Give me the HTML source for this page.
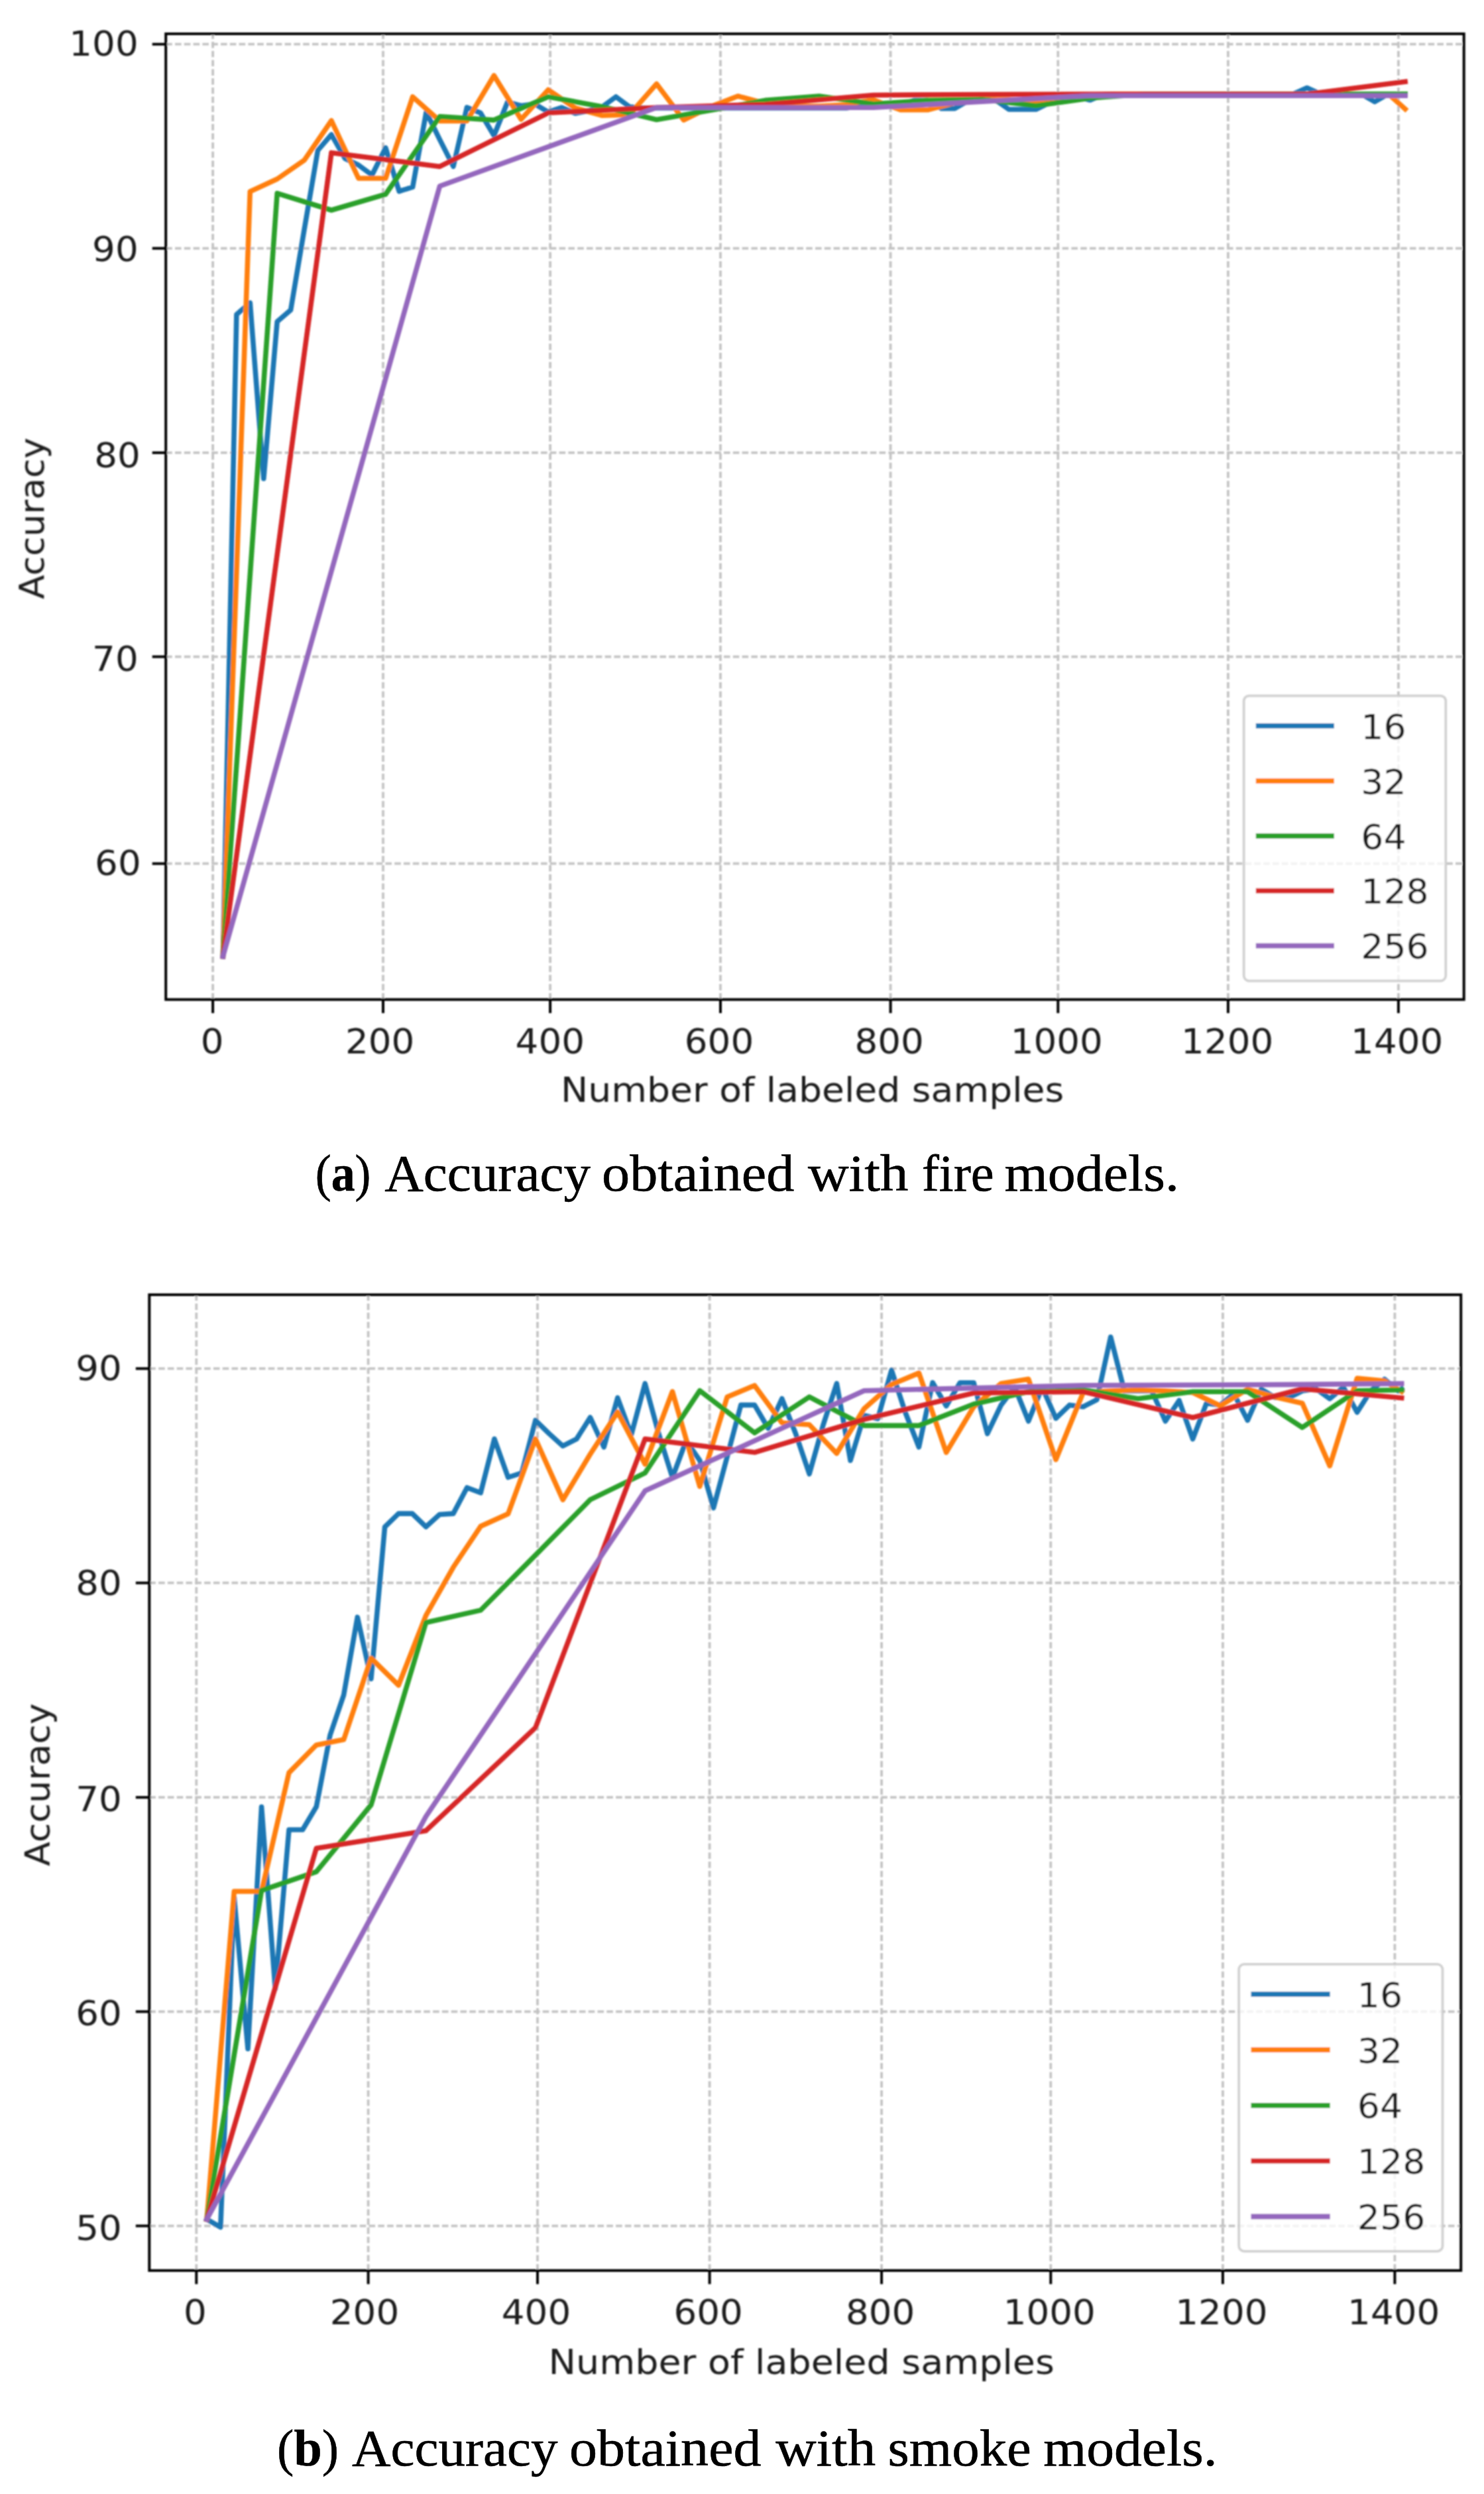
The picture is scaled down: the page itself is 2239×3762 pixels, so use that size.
<!DOCTYPE html>
<html lang="en"><head><meta charset="utf-8"><title>Accuracy vs number of labeled samples</title>
<style>
html,body{margin:0;padding:0;background:#fff}
body{width:2239px;height:3762px;overflow:hidden}
svg{display:block}
.dv{font-family:"DejaVu Sans","Liberation Sans",sans-serif;font-size:52.1px;fill:#1a1a1a}
.cap{font-family:"Liberation Serif","DejaVu Serif",serif;font-size:78px;fill:#000;stroke:#000;stroke-width:0.6px}
.cap .b{font-weight:bold}
</style></head><body>
<svg width="2239" height="3762" viewBox="0 0 2239 3762">
<defs><filter id="bl" filterUnits="userSpaceOnUse" x="0" y="0" width="2239" height="3762"><feGaussianBlur stdDeviation="1.1"/></filter></defs>
<rect width="2239" height="3762" fill="#fff"/>
<g class="ch" filter="url(#bl)">
<g stroke="#c3c3c3" stroke-width="3.75" stroke-dasharray="9.6 4.2" fill="none">
<path d="M321.1 1507.7V51.0"/>
<path d="M578.0 1507.7V51.0"/>
<path d="M830.1 1507.7V51.0"/>
<path d="M1087.0 1507.7V51.0"/>
<path d="M1343.6 1507.7V51.0"/>
<path d="M1596.3 1507.7V51.0"/>
<path d="M1852.9 1507.7V51.0"/>
<path d="M2109.9 1507.7V51.0"/>
<path d="M250.2 66.7H2208.7"/>
<path d="M250.2 374.6H2208.7"/>
<path d="M250.2 682.9H2208.7"/>
<path d="M250.2 990.6H2208.7"/>
<path d="M250.2 1302.7H2208.7"/>
</g>
<clipPath id="cpa"><rect x="250.2" y="51.0" width="1958.4999999999998" height="1456.7"/></clipPath>
<g clip-path="url(#cpa)" fill="none" stroke-width="7.6" stroke-linejoin="round" stroke-linecap="square">
<polyline stroke="#1f77b4" points="336.4,1442.5 356.9,474.3 377.3,456.8 397.8,722.0 418.2,485.1 438.6,467.6 459.1,346.0 479.5,226.9 500.0,203.0 520.4,239.0 540.9,249.0 561.3,264.0 581.8,223.0 602.2,288.5 622.6,282.2 643.1,169.0 663.5,210.7 684.0,251.0 704.4,162.0 724.9,170.3 745.3,204.5 765.7,154.0 786.2,159.5 806.6,156.8 827.1,168.9 847.5,162.2 868.0,171.0 888.4,167.0 908.8,161.0 929.3,146.0 949.7,161.0 970.2,163.0 990.6,163.0 1011.1,163.0 1031.5,163.0 1052.0,163.0 1072.4,163.0 1092.8,163.0 1113.3,163.0 1133.7,163.0 1154.2,163.0 1174.6,163.0 1195.1,163.0 1215.5,163.0 1235.9,163.0 1256.4,163.0 1276.8,163.0 1297.3,160.0 1317.7,153.0 1338.2,158.0 1358.6,158.0 1379.0,151.4 1399.5,151.4 1419.9,163.6 1440.4,163.6 1460.8,152.0 1481.3,150.6 1501.7,150.6 1522.1,165.0 1542.6,165.0 1563.0,165.0 1583.5,155.0 1603.9,150.0 1624.4,146.0 1644.8,151.0 1665.3,142.5 1685.7,141.7 1706.1,141.7 1726.6,141.7 1747.0,141.7 1767.5,141.7 1787.9,141.7 1808.4,141.7 1828.8,141.7 1849.2,141.7 1869.7,141.7 1890.1,141.7 1910.6,141.7 1931.0,141.7 1951.5,141.7 1971.9,132.5 1992.3,141.7 2012.8,141.7 2033.2,141.7 2053.7,141.7 2074.1,153.5 2094.6,141.7 2115.0,141.7 2120.1,141.7"/>
<polyline stroke="#ff7f0e" points="336.4,1442.5 377.3,288.9 418.2,270.0 459.1,241.7 500.0,182.0 540.9,269.0 581.8,269.0 622.6,146.0 663.5,182.4 704.4,182.4 745.3,114.0 786.2,180.0 827.1,135.5 868.0,163.0 908.8,174.3 949.7,173.0 990.6,126.5 1031.5,181.0 1072.4,160.9 1113.3,145.0 1154.2,156.0 1195.1,160.0 1235.9,160.0 1276.8,158.0 1317.7,150.6 1358.6,165.7 1399.5,165.7 1440.4,155.0 1481.3,150.0 1522.1,150.0 1563.0,153.0 1603.9,150.0 1644.8,143.0 1685.7,141.7 1726.6,141.7 1767.5,141.7 1808.4,141.7 1849.2,141.7 1890.1,141.7 1931.0,141.7 1971.9,141.7 2012.8,141.7 2053.7,141.7 2094.6,141.7 2120.1,164.5"/>
<polyline stroke="#2ca02c" points="336.4,1442.5 418.2,291.6 500.0,317.0 581.8,293.0 663.5,175.7 745.3,181.1 827.1,146.0 908.8,160.9 990.6,180.5 1072.4,166.3 1154.2,151.4 1235.9,145.0 1317.7,156.8 1399.5,151.4 1481.3,150.0 1563.0,159.5 1644.8,148.0 1726.6,142.0 1808.4,141.7 1890.1,141.7 1971.9,141.7 2053.7,141.7 2120.1,141.7"/>
<polyline stroke="#d62728" points="336.4,1442.5 500.0,230.4 663.5,251.2 827.1,170.3 990.6,162.2 1154.2,157.5 1317.7,143.5 1481.3,142.5 1644.8,142.0 1808.4,142.0 1971.9,142.0 2120.1,123.3"/>
<polyline stroke="#9467bd" points="336.4,1442.5 663.5,280.8 990.6,162.2 1317.7,162.2 1644.8,144.2 1971.9,144.2 2120.1,144.2"/>
</g>
<rect x="1876.7" y="1049.6" width="304.6" height="430.0" rx="8" ry="8" fill="#fff" fill-opacity="0.8" stroke="#cccccc" stroke-opacity="0.9" stroke-width="3.8"/>
<path d="M1894.8 1094.9H2012.9" stroke="#1f77b4" stroke-width="7.8" fill="none"/>
<text class="dv" x="2053.2" y="1114.5" textLength="68.4" lengthAdjust="spacingAndGlyphs">16</text>
<path d="M1894.8 1178.0H2012.9" stroke="#ff7f0e" stroke-width="7.8" fill="none"/>
<text class="dv" x="2053.2" y="1197.6" textLength="68.4" lengthAdjust="spacingAndGlyphs">32</text>
<path d="M1894.8 1261.0H2012.9" stroke="#2ca02c" stroke-width="7.8" fill="none"/>
<text class="dv" x="2053.2" y="1280.6" textLength="68.4" lengthAdjust="spacingAndGlyphs">64</text>
<path d="M1894.8 1343.7H2012.9" stroke="#d62728" stroke-width="7.8" fill="none"/>
<text class="dv" x="2053.2" y="1363.3" textLength="102.6" lengthAdjust="spacingAndGlyphs">128</text>
<path d="M1894.8 1426.7H2012.9" stroke="#9467bd" stroke-width="7.8" fill="none"/>
<text class="dv" x="2053.2" y="1446.3" textLength="102.6" lengthAdjust="spacingAndGlyphs">256</text>
<rect x="250.2" y="51.0" width="1958.5" height="1456.7" fill="none" stroke="#000" stroke-width="4"/>
<g stroke="#000" stroke-width="4" fill="none">
<path d="M321.1 1507.7v20.5"/>
<path d="M578.0 1507.7v20.5"/>
<path d="M830.1 1507.7v20.5"/>
<path d="M1087.0 1507.7v20.5"/>
<path d="M1343.6 1507.7v20.5"/>
<path d="M1596.3 1507.7v20.5"/>
<path d="M1852.9 1507.7v20.5"/>
<path d="M2109.9 1507.7v20.5"/>
<path d="M250.2 66.7h-20.5"/>
<path d="M250.2 374.6h-20.5"/>
<path d="M250.2 682.9h-20.5"/>
<path d="M250.2 990.6h-20.5"/>
<path d="M250.2 1302.7h-20.5"/>
</g>
<text class="dv" x="302.7" y="1588.7" textLength="34.8" lengthAdjust="spacingAndGlyphs">0</text>
<text class="dv" x="521.0" y="1588.7" textLength="104.4" lengthAdjust="spacingAndGlyphs">200</text>
<text class="dv" x="777.6" y="1588.7" textLength="104.4" lengthAdjust="spacingAndGlyphs">400</text>
<text class="dv" x="1032.8" y="1588.7" textLength="104.4" lengthAdjust="spacingAndGlyphs">600</text>
<text class="dv" x="1289.4" y="1588.7" textLength="104.4" lengthAdjust="spacingAndGlyphs">800</text>
<text class="dv" x="1524.7" y="1588.7" textLength="139.2" lengthAdjust="spacingAndGlyphs">1000</text>
<text class="dv" x="1782.1" y="1588.7" textLength="139.2" lengthAdjust="spacingAndGlyphs">1200</text>
<text class="dv" x="2038.1" y="1588.7" textLength="139.2" lengthAdjust="spacingAndGlyphs">1400</text>
<text class="dv" x="104.3" y="84.2" textLength="104.4" lengthAdjust="spacingAndGlyphs">100</text>
<text class="dv" x="139.1" y="393.7" textLength="69.6" lengthAdjust="spacingAndGlyphs">90</text>
<text class="dv" x="142.3" y="704.6" textLength="69.6" lengthAdjust="spacingAndGlyphs">80</text>
<text class="dv" x="139.1" y="1011.9" textLength="69.6" lengthAdjust="spacingAndGlyphs">70</text>
<text class="dv" x="143.1" y="1320.2" textLength="69.6" lengthAdjust="spacingAndGlyphs">60</text>
<text class="dv" x="845.9" y="1662.2" textLength="759.4" lengthAdjust="spacingAndGlyphs">Number of labeled samples</text>
<text class="dv" transform="translate(66.3 903.7) rotate(-90)" textLength="243.6" lengthAdjust="spacingAndGlyphs">Accuracy</text>
</g>
<g class="ch" filter="url(#bl)">
<g stroke="#c3c3c3" stroke-width="3.75" stroke-dasharray="9.6 4.2" fill="none">
<path d="M296.3 3424.9V1953.0"/>
<path d="M555.6 3424.9V1953.0"/>
<path d="M811.0 3424.9V1953.0"/>
<path d="M1070.6 3424.9V1953.0"/>
<path d="M1330.1 3424.9V1953.0"/>
<path d="M1585.3 3424.9V1953.0"/>
<path d="M1844.9 3424.9V1953.0"/>
<path d="M2104.4 3424.9V1953.0"/>
<path d="M225.3 2064.4H2204.2"/>
<path d="M225.3 2387.7H2204.2"/>
<path d="M225.3 2711.2H2204.2"/>
<path d="M225.3 3034.4H2204.2"/>
<path d="M225.3 3357.6H2204.2"/>
</g>
<clipPath id="cpb"><rect x="225.3" y="1953.0" width="1978.8999999999999" height="1471.9"/></clipPath>
<g clip-path="url(#cpb)" fill="none" stroke-width="7.6" stroke-linejoin="round" stroke-linecap="square">
<polyline stroke="#1f77b4" points="312.0,3347.6 332.7,3359.5 353.3,2862.3 374.0,3090.5 394.6,2725.5 415.3,3000.0 436.0,2760.0 456.6,2760.0 477.3,2725.2 498.0,2617.4 518.6,2556.7 539.3,2439.4 559.9,2532.5 580.6,2303.3 601.3,2283.1 621.9,2283.1 642.6,2303.1 663.2,2284.5 683.9,2283.1 704.6,2244.0 725.2,2251.8 745.9,2170.5 766.6,2228.5 787.2,2221.8 807.9,2142.5 828.5,2162.5 849.2,2181.2 869.9,2170.6 890.5,2138.1 911.2,2182.8 931.8,2108.5 952.5,2164.0 973.2,2086.9 993.8,2162.5 1014.5,2228.7 1035.2,2173.2 1055.8,2203.0 1076.5,2274.5 1097.1,2197.5 1117.8,2119.4 1138.5,2119.4 1159.1,2154.5 1179.8,2109.8 1200.5,2162.5 1221.1,2223.3 1241.8,2150.0 1262.4,2086.9 1283.1,2203.0 1303.8,2135.0 1324.4,2140.0 1345.1,2066.7 1365.7,2130.0 1386.4,2182.8 1407.1,2085.5 1427.7,2120.8 1448.4,2085.7 1469.1,2085.7 1489.7,2162.6 1510.4,2119.4 1531.0,2092.5 1551.7,2143.7 1572.4,2092.5 1593.0,2139.4 1613.7,2119.4 1634.3,2122.0 1655.0,2111.3 1675.7,2016.8 1696.3,2098.0 1717.0,2098.0 1737.7,2098.0 1758.3,2143.7 1779.0,2112.5 1799.6,2170.7 1820.3,2116.7 1841.0,2119.4 1861.6,2102.5 1882.3,2142.4 1903.0,2095.5 1923.6,2108.0 1944.3,2108.6 1964.9,2098.0 1985.6,2095.0 2006.3,2109.8 2026.9,2092.5 2047.6,2130.3 2068.2,2098.0 2088.9,2080.5 2109.6,2098.0 2114.7,2095.0"/>
<polyline stroke="#ff7f0e" points="312.0,3347.6 353.3,2853.0 394.6,2853.0 436.0,2674.0 477.3,2632.2 518.6,2624.1 559.9,2501.3 601.3,2542.0 642.6,2436.8 683.9,2364.0 725.2,2302.3 766.6,2283.5 807.9,2170.5 849.2,2262.3 890.5,2193.5 931.8,2130.1 973.2,2208.5 1014.5,2099.1 1055.8,2242.1 1097.1,2107.3 1138.5,2089.9 1179.8,2146.3 1221.1,2149.0 1262.4,2192.3 1303.8,2124.8 1345.1,2088.4 1386.4,2071.1 1427.7,2190.9 1469.1,2122.0 1510.4,2087.0 1551.7,2080.3 1593.0,2201.7 1634.3,2100.5 1675.7,2098.0 1717.0,2096.5 1758.3,2098.0 1799.6,2100.5 1841.0,2120.5 1882.3,2095.5 1923.6,2107.3 1964.9,2116.7 2006.3,2211.1 2047.6,2079.0 2088.9,2083.0 2114.7,2099.0"/>
<polyline stroke="#2ca02c" points="312.0,3347.6 394.6,2851.6 477.3,2823.3 559.9,2722.5 642.6,2447.5 725.2,2428.9 807.9,2345.8 890.5,2262.2 973.2,2221.8 1055.8,2097.7 1138.5,2161.3 1221.1,2107.1 1303.8,2150.4 1386.4,2150.4 1469.1,2118.0 1551.7,2099.2 1634.3,2096.5 1717.0,2109.8 1799.6,2099.2 1882.3,2099.2 1964.9,2153.2 2047.6,2097.8 2114.7,2096.5"/>
<polyline stroke="#d62728" points="312.0,3347.6 477.3,2788.0 642.6,2761.6 807.9,2606.0 973.2,2170.6 1138.5,2190.8 1303.8,2141.0 1469.1,2101.2 1634.3,2099.2 1799.6,2138.2 1964.9,2095.0 2114.7,2108.6"/>
<polyline stroke="#9467bd" points="312.0,3347.6 642.6,2740.0 973.2,2248.8 1303.8,2097.8 1634.3,2089.7 1964.9,2088.4 2114.7,2087.0"/>
</g>
<rect x="1869.2" y="2962.9" width="307.3" height="432.9" rx="8" ry="8" fill="#fff" fill-opacity="0.8" stroke="#cccccc" stroke-opacity="0.9" stroke-width="3.8"/>
<path d="M1887.5 3008.2H2006.7" stroke="#1f77b4" stroke-width="7.8" fill="none"/>
<text class="dv" x="2047.8" y="3027.8" textLength="68.4" lengthAdjust="spacingAndGlyphs">16</text>
<path d="M1887.5 3092.0H2006.7" stroke="#ff7f0e" stroke-width="7.8" fill="none"/>
<text class="dv" x="2047.8" y="3111.6" textLength="68.4" lengthAdjust="spacingAndGlyphs">32</text>
<path d="M1887.5 3175.8H2006.7" stroke="#2ca02c" stroke-width="7.8" fill="none"/>
<text class="dv" x="2047.8" y="3195.4" textLength="68.4" lengthAdjust="spacingAndGlyphs">64</text>
<path d="M1887.5 3259.7H2006.7" stroke="#d62728" stroke-width="7.8" fill="none"/>
<text class="dv" x="2047.8" y="3279.3" textLength="102.6" lengthAdjust="spacingAndGlyphs">128</text>
<path d="M1887.5 3343.5H2006.7" stroke="#9467bd" stroke-width="7.8" fill="none"/>
<text class="dv" x="2047.8" y="3363.1" textLength="102.6" lengthAdjust="spacingAndGlyphs">256</text>
<rect x="225.3" y="1953.0" width="1978.9" height="1471.9" fill="none" stroke="#000" stroke-width="4"/>
<g stroke="#000" stroke-width="4" fill="none">
<path d="M296.3 3424.9v20.5"/>
<path d="M555.6 3424.9v20.5"/>
<path d="M811.0 3424.9v20.5"/>
<path d="M1070.6 3424.9v20.5"/>
<path d="M1330.1 3424.9v20.5"/>
<path d="M1585.3 3424.9v20.5"/>
<path d="M1844.9 3424.9v20.5"/>
<path d="M2104.4 3424.9v20.5"/>
<path d="M225.3 2064.4h-20.5"/>
<path d="M225.3 2387.7h-20.5"/>
<path d="M225.3 2711.2h-20.5"/>
<path d="M225.3 3034.4h-20.5"/>
<path d="M225.3 3357.6h-20.5"/>
</g>
<text class="dv" x="276.9" y="3506.4" textLength="34.8" lengthAdjust="spacingAndGlyphs">0</text>
<text class="dv" x="497.8" y="3506.4" textLength="104.4" lengthAdjust="spacingAndGlyphs">200</text>
<text class="dv" x="756.8" y="3506.4" textLength="104.4" lengthAdjust="spacingAndGlyphs">400</text>
<text class="dv" x="1016.4" y="3506.4" textLength="104.4" lengthAdjust="spacingAndGlyphs">600</text>
<text class="dv" x="1275.9" y="3506.4" textLength="104.4" lengthAdjust="spacingAndGlyphs">800</text>
<text class="dv" x="1513.7" y="3506.4" textLength="139.2" lengthAdjust="spacingAndGlyphs">1000</text>
<text class="dv" x="1773.3" y="3506.4" textLength="139.2" lengthAdjust="spacingAndGlyphs">1200</text>
<text class="dv" x="2033.1" y="3506.4" textLength="139.2" lengthAdjust="spacingAndGlyphs">1400</text>
<text class="dv" x="114.2" y="2082.1" textLength="69.6" lengthAdjust="spacingAndGlyphs">90</text>
<text class="dv" x="114.2" y="2406.3" textLength="69.6" lengthAdjust="spacingAndGlyphs">80</text>
<text class="dv" x="114.2" y="2732.3" textLength="69.6" lengthAdjust="spacingAndGlyphs">70</text>
<text class="dv" x="114.2" y="3054.8" textLength="69.6" lengthAdjust="spacingAndGlyphs">60</text>
<text class="dv" x="114.2" y="3379.1" textLength="69.6" lengthAdjust="spacingAndGlyphs">50</text>
<text class="dv" x="827.5" y="3580.9" textLength="763.4" lengthAdjust="spacingAndGlyphs">Number of labeled samples</text>
<text class="dv" transform="translate(74.8 2814.9) rotate(-90)" textLength="245.7" lengthAdjust="spacingAndGlyphs">Accuracy</text>
</g>
<text class="cap" y="1795.5"><tspan x="475.74" textLength="83.66" lengthAdjust="spacingAndGlyphs">(<tspan class="b">a</tspan>)</tspan> <tspan x="580.16" textLength="310.85" lengthAdjust="spacingAndGlyphs">Accuracy</tspan> <tspan x="908.06" textLength="290.37" lengthAdjust="spacingAndGlyphs">obtained</tspan> <tspan x="1218.90" textLength="151.63" lengthAdjust="spacingAndGlyphs">with</tspan> <tspan x="1390.68" textLength="109.08" lengthAdjust="spacingAndGlyphs">fire</tspan> <tspan x="1515.55" textLength="263.44" lengthAdjust="spacingAndGlyphs">models.</tspan></text>
<text class="cap" y="3718.8"><tspan x="418.07" textLength="92.96" lengthAdjust="spacingAndGlyphs">(<tspan class="b">b</tspan>)</tspan> <tspan x="531.06" textLength="310.35" lengthAdjust="spacingAndGlyphs">Accuracy</tspan> <tspan x="858.97" textLength="289.56" lengthAdjust="spacingAndGlyphs">obtained</tspan> <tspan x="1170.20" textLength="150.93" lengthAdjust="spacingAndGlyphs">with</tspan> <tspan x="1339.51" textLength="216.40" lengthAdjust="spacingAndGlyphs">smoke</tspan> <tspan x="1574.16" textLength="262.51" lengthAdjust="spacingAndGlyphs">models.</tspan></text>
</svg></body></html>
